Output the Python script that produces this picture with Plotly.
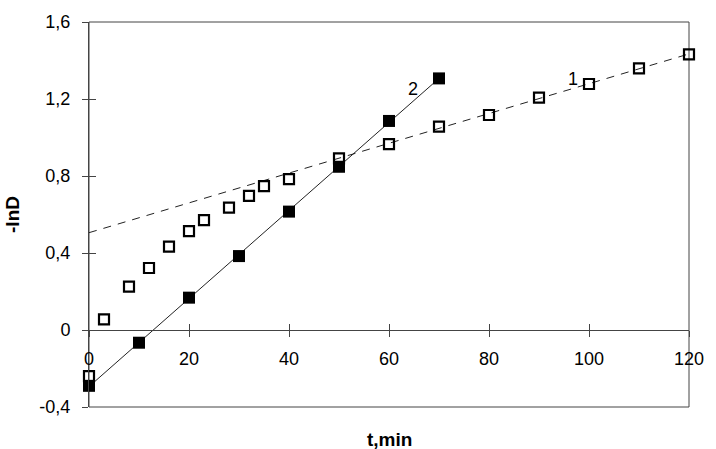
import numpy as np
import plotly.graph_objects as go

# Series 1 (open squares, dashed fit)
t1 = [0, 3, 8, 12, 16, 20, 23, 28, 32, 35, 40, 50, 60, 70, 80, 90, 100, 110, 120]
v1 = [-0.24, 0.055, 0.225, 0.322, 0.433, 0.514, 0.571, 0.636, 0.697, 0.747, 0.784,
      0.892, 0.966, 1.056, 1.117, 1.207, 1.278, 1.359, 1.432]
# Series 2 (filled squares, solid fit)
t2 = [0, 10, 20, 30, 40, 50, 60, 70]
v2 = [-0.29, -0.066, 0.168, 0.384, 0.615, 0.848, 1.086, 1.307]

fit1_from = 50          # linear part of series 1 used for its fit
fit1_span = [0, 120]
fit2_span = [0, 70]

yticks = [-0.4, 0, 0.4, 0.8, 1.2, 1.6]
yticktext = ["-0,4", "0", "0,4", "0,8", "1,2", "1,6"]
xticks = [0, 20, 40, 60, 80, 100, 120]

x_range = [0, 120]
y_range = [-0.4, 1.6]

sel = [i for i, t in enumerate(t1) if t >= fit1_from]
k1, b1 = np.polyfit([t1[i] for i in sel], [v1[i] for i in sel], 1)
k2, b2 = np.polyfit(t2, v2, 1)
fx1 = np.array(fit1_span, dtype=float)
fx2 = np.array(fit2_span, dtype=float)

FONT = "Liberation Sans, Arial, sans-serif"

fig = go.Figure()
fig.add_trace(go.Scatter(x=fx1, y=k1 * fx1 + b1, mode="lines",
                         line=dict(color="#222", width=1, dash="8px,7px"),
                         showlegend=False, hoverinfo="skip"))
fig.add_trace(go.Scatter(x=fx2, y=k2 * fx2 + b2, mode="lines",
                         line=dict(color="#222", width=1),
                         showlegend=False, hoverinfo="skip"))
fig.add_trace(go.Scatter(x=t1, y=v1, mode="markers", cliponaxis=False,
                         marker=dict(symbol="square-open", size=10, color="black",
                                     line=dict(width=2.2, color="black")),
                         showlegend=False))
fig.add_trace(go.Scatter(x=t2, y=v2, mode="markers", cliponaxis=False,
                         marker=dict(symbol="square", size=12, color="black"),
                         showlegend=False))
# invisible trace to carry the overlay axes (inner tick halves)
fig.add_trace(go.Scatter(x=[None], y=[None], xaxis="x2", yaxis="y2",
                         showlegend=False, hoverinfo="skip"))

axis_col = "#444"
fig.update_layout(
    width=716, height=449,
    margin=dict(l=88, r=18, t=22, b=42),
    paper_bgcolor="white", plot_bgcolor="white",
    font=dict(family=FONT, size=18, color="black"),
    xaxis=dict(range=x_range, tickvals=xticks, ticks="outside", ticklen=6,
               tickcolor=axis_col, showline=True, linecolor=axis_col, linewidth=1,
               showgrid=False, zeroline=False, anchor="free", position=0.2,
               ticklabelstandoff=6, tickfont=dict(size=18)),
    yaxis=dict(range=y_range, tickvals=yticks, ticktext=yticktext, ticks="outside",
               ticklen=6, tickcolor=axis_col, showline=True, linecolor=axis_col,
               linewidth=1, showgrid=False, zeroline=False,
               ticklabelstandoff=8, tickfont=dict(size=18),
               title=dict(text="<b>-lnD</b>", font=dict(size=19), standoff=14)),
    xaxis2=dict(range=x_range, tickvals=xticks, ticks="inside", ticklen=6,
                tickcolor=axis_col, showticklabels=False, showline=False,
                showgrid=False, zeroline=False, overlaying="x", anchor="free",
                position=0.2),
    yaxis2=dict(range=y_range, tickvals=yticks, ticks="inside", ticklen=7,
                tickcolor=axis_col, showticklabels=False, showline=False,
                showgrid=False, zeroline=False, overlaying="y", anchor="x2"),
    shapes=[dict(type="rect", xref="paper", yref="paper", x0=0, x1=1, y0=0, y1=1,
                 line=dict(color=axis_col, width=1), layer="below")],
    annotations=[
        dict(text="<b>t,min</b>", xref="paper", yref="paper", x=0.5, y=-0.085,
             showarrow=False, font=dict(size=19), yanchor="middle"),
        dict(text="1", x=96.8, y=1.304, showarrow=False, font=dict(size=18)),
        dict(text="2", x=64.7, y=1.252, showarrow=False, font=dict(size=18)),
    ],
)

fig.write_html("out.html")
